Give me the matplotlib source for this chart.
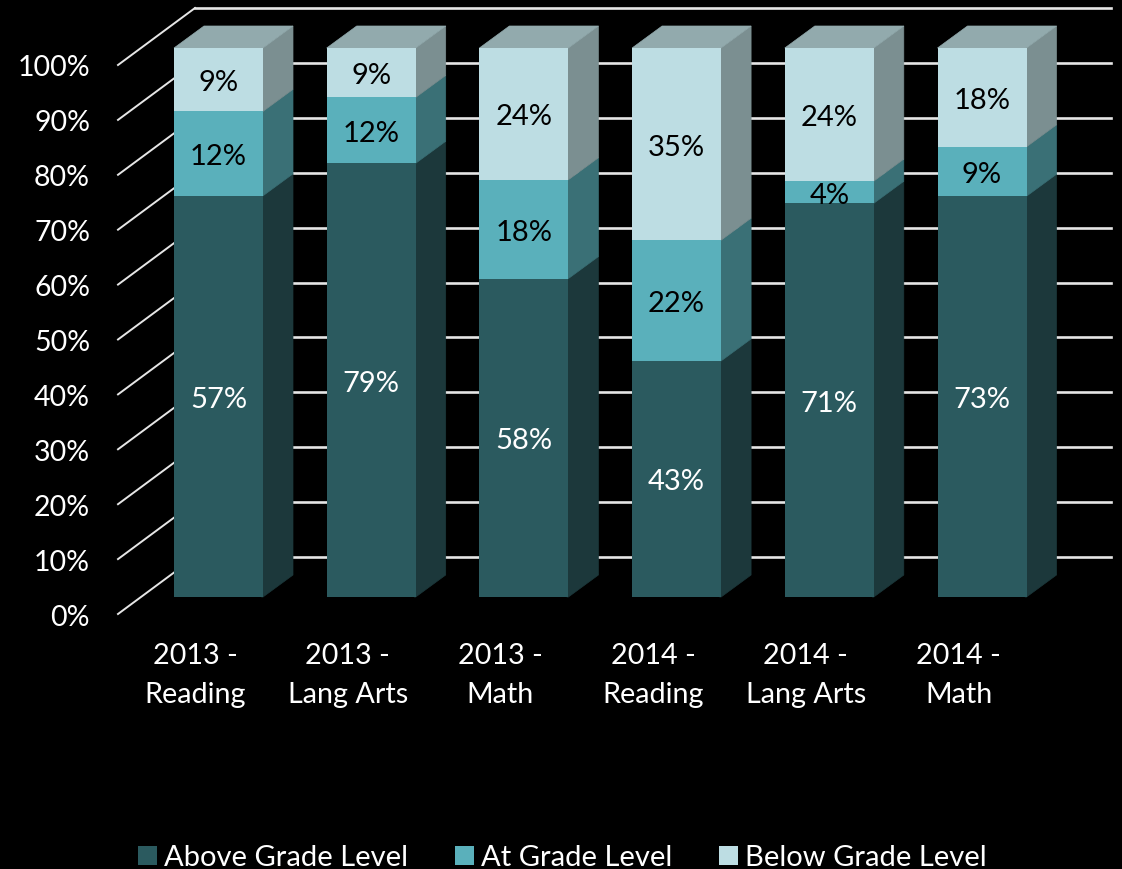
import matplotlib
matplotlib.use('Agg')
import numpy as np
import matplotlib.pyplot as plt
from matplotlib.patches import Patch, Polygon

# ── data ─────────────────────────────────────────
categories = ['2013 -\nReading', '2013 -\nLang Arts', '2013 -\nMath',
              '2014 -\nReading', '2014 -\nLang Arts', '2014 -\nMath']
above = [57, 79, 58, 43, 71, 73]
at_level = [12, 12, 18, 22, 4, 9]
below = [9, 9, 24, 35, 24, 18]
series_names = ['Above Grade Level', 'At Grade Level', 'Below Grade Level']
tick_values = [0, 10, 20, 30, 40, 50, 60, 70, 80, 90, 100]

front_colors = ['#2b5a5f', '#5ab0bb', '#bddde3']
side_colors = ['#1c383b', '#3a7076', '#7b8f91']
top_color = '#92aaad'
label_colors = ['white', 'black', 'black']

plt.rcParams['font.family'] = ['Lato', 'DejaVu Sans']

# ── scales: one category = 152.7 px, one percent = 5.49 px ───
W, H = 1122, 869
PX_X, PX_Y = 152.7, 5.49
X0, Y0 = 218.5, 597
BAR_W = 89 / PX_X
DX, DY = 30 / PX_X, 22 / PX_Y
TEXT_DROP = 3.5 / PX_Y
TUCK = 1.5 / PX_X  # side faces start a little under the front, hides the seam

fig = plt.figure(figsize=(W / 100, H / 100), dpi=100, facecolor='black')
ax = fig.add_axes([0, 0, 1, 1])
ax.set_xlim(-X0 / PX_X, (W - X0) / PX_X)
ax.set_ylim((Y0 - H) / PX_Y, Y0 / PX_Y)
ax.axis('off')

# ── back wall and side wall ──────────────────────
wall_left = (195 - X0) / PX_X
wall_right = (1111 - X0) / PX_X
side_left = (118 - X0) / PX_X
for v in tick_values:
    y_back = v + 40 / PX_Y
    y_front = v - 17 / PX_Y
    ax.plot([wall_left, wall_right], [y_back, y_back], color='#e6e6e6', lw=1.9, zorder=1)
    ax.plot([side_left, wall_left], [y_front, y_back], color='#e6e6e6', lw=1.4, zorder=1)
    ax.text(side_left - 28 / PX_X, y_front - TEXT_DROP, f'{v}%', color='white', fontsize=20.5,
            ha='right', va='center')

# ── bars ─────────────────────────────────────────
x = np.arange(len(categories))
values = np.array([above, at_level, below], dtype=float)
shares = values / values.sum(axis=0) * 100
bottoms = np.zeros(len(categories))

for s in range(3):
    for i in x:
        lo, hi = bottoms[i], bottoms[i] + shares[s][i]
        right = i + BAR_W / 2
        ax.add_patch(Polygon([(right - TUCK, lo), (right, lo), (right + DX, lo + DY), (right + DX, hi + DY),
                              (right, hi), (right - TUCK, hi)],
                             closed=True, facecolor=side_colors[s], edgecolor=side_colors[s],
                             lw=0.5, zorder=2.5))
        ax.text(i, (lo + hi) / 2 - TEXT_DROP, f'{int(values[s][i])}%', color=label_colors[s],
                fontsize=21, ha='center', va='center', zorder=4)
    ax.bar(x, shares[s], BAR_W, bottom=bottoms, color=front_colors[s], zorder=3)
    bottoms += shares[s]

for i in x:
    left, right = i - BAR_W / 2, i + BAR_W / 2
    ax.add_patch(Polygon([(left, 100), (left + DX, 100 + DY), (right + DX, 100 + DY), (right, 100)],
                         closed=True, facecolor=top_color, edgecolor=top_color, lw=0.5, zorder=2.6))
    ax.text(i - 23.5 / PX_X, -78.5 / PX_Y, categories[i], color='white', fontsize=20.7,
            ha='center', va='center', linespacing=1.62)

handles = [Patch(facecolor=c, edgecolor='none') for c in front_colors]
fig.legend(handles, series_names, loc='center', bbox_to_anchor=(562.5 / W, 1 - 857.5 / H), ncol=3,
           frameon=False, labelcolor='white', fontsize=21, handlelength=0.65, handleheight=0.65,
           handletextpad=0.24, columnspacing=1.6, borderpad=0)

plt.savefig('out.png', dpi=100, facecolor='black')
